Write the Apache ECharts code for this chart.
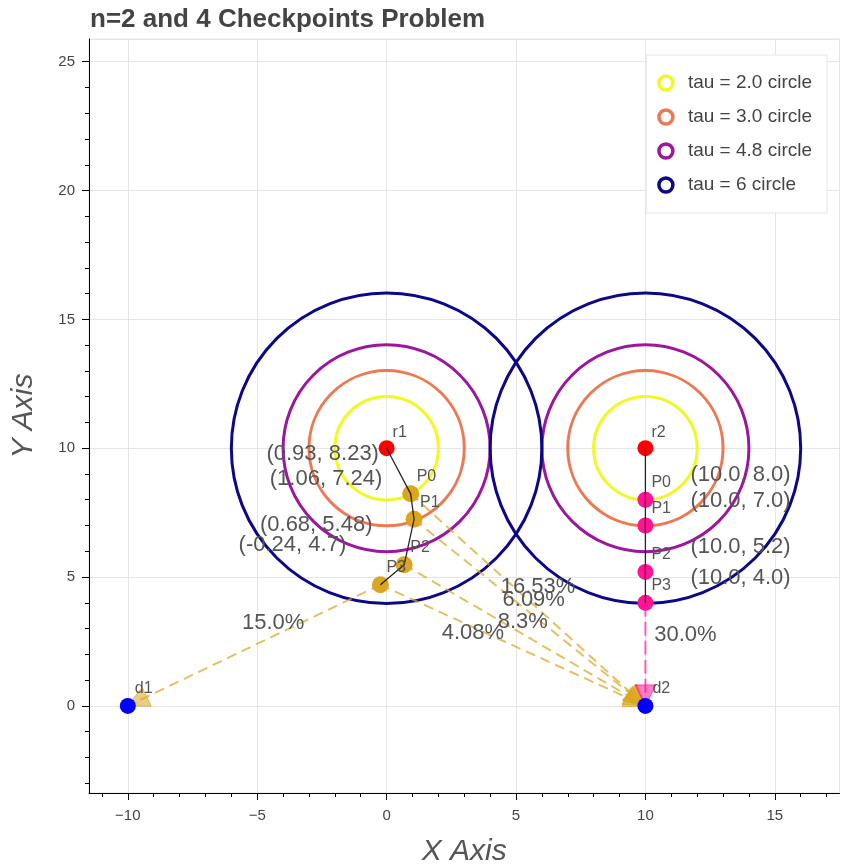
<!DOCTYPE html>
<html>
<head>
<meta charset="utf-8">
<script src="https://cdn.jsdelivr.net/npm/echarts@6/dist/echarts.min.js"></script>
<style>
  html, body { margin: 0; padding: 0; background: #fff; }
  #chart { width: 844px; height: 867px; }
</style>
</head>
<body>
<div id="chart"></div>
<script>
// --- data ---
const r1 = [0, 10];
const r2 = [10, 10];
const d1 = [-10, 0];
const d2 = [10, 0];

const tauNames = ['tau = 2.0 circle', 'tau = 3.0 circle', 'tau = 4.8 circle', 'tau = 6 circle'];
const tauRadii = [2, 3, 4, 6];
const tauColors = ['#F0F921', '#ED7953', '#9C179E', '#0D0887'];

const leftPX = [0.93, 1.06, 0.68, -0.24];
const leftPY = [8.23, 7.24, 5.48, 4.7];
const rightPX = [10.0, 10.0, 10.0, 10.0];
const rightPY = [8.0, 7.0, 5.2, 4.0];
const pNames = ['P0', 'P1', 'P2', 'P3'];

const leftToD2Pct = ['16.53%', '6.09%', '8.3%', '4.08%'];
const leftToD1Pct = ['15.0%'];
const rightToD2Pct = ['30.0%'];

const xMajor = [-10, -5, 0, 5, 10, 15];
const yMajor = [0, 5, 10, 15, 20, 25];
const xMinor = [-11, -9, -8, -7, -6, -4, -3, -2, -1, 1, 2, 3, 4, 6, 7, 8, 9, 11, 12, 13, 14, 16, 17];
const yMinor = [-3, -2, -1, 1, 2, 3, 4, 6, 7, 8, 9, 11, 12, 13, 14, 16, 17, 18, 19, 21, 22, 23, 24];

// --- helpers ---
const FONT = 'Liberation Sans, Arial, Helvetica, sans-serif';
const TXT = '#555';
const X_RANGE = [-11.5, 17.5];
const Y_RANGE = [-3.38, 25.88];
const leftP = leftPX.map((x, i) => [x, leftPY[i]]);
const rightP = rightPX.map((x, i) => [x, rightPY[i]]);
const pyStr = v => Number.isInteger(v) ? v.toFixed(1) : String(v);
const coordText = p => '(' + pyStr(p[0]) + ', ' + pyStr(p[1]) + ')';
const mid = (a, b) => [(a[0] + b[0]) / 2, (a[1] + b[1]) / 2];
const tickFmt = v => v < 0 ? '\u2212' + Math.abs(v) : String(v);

function circleSeries(i) {
  return {
    name: tauNames[i],
    type: 'custom',
    z: 2,
    itemStyle: { color: tauColors[i] },
    data: [[r1[0], r1[1], tauRadii[i]], [r2[0], r2[1], tauRadii[i]]],
    renderItem(params, api) {
      const c = api.coord([api.value(0), api.value(1)]);
      const r = api.size([api.value(2), 0])[0];
      return {
        type: 'circle',
        shape: { cx: c[0], cy: c[1], r: r },
        style: { fill: 'none', stroke: tauColors[i], lineWidth: 3 }
      };
    }
  };
}

function arrowSeries(starts, end, stroke, fill, dash) {
  return {
    type: 'custom',
    z: 3,
    data: starts.map(p => [p[0], p[1], end[0], end[1]]),
    renderItem(params, api) {
      const p = api.coord([api.value(0), api.value(1)]);
      const q = api.coord([api.value(2), api.value(3)]);
      const dx = q[0] - p[0], dy = q[1] - p[1];
      const len = Math.hypot(dx, dy);
      const ux = dx / len, uy = dy / len;
      const s = 21;
      const bx = q[0] - ux * s, by = q[1] - uy * s;
      const px = -uy * s / 2, py = ux * s / 2;
      return {
        type: 'group',
        children: [
          { type: 'line', shape: { x1: p[0], y1: p[1], x2: q[0], y2: q[1] },
            style: { stroke: stroke, lineWidth: 2, lineDash: dash } },
          { type: 'polygon', shape: { points: [[q[0], q[1]], [bx + px, by + py], [bx - px, by - py]] },
            style: { fill: fill, stroke: stroke, lineWidth: 1 } }
        ]
      };
    }
  };
}

function dotSeries(points, color, size) {
  return {
    type: 'scatter',
    z: 4,
    symbol: 'circle',
    symbolSize: size,
    itemStyle: { color: color, opacity: 1 },
    data: points
  };
}

function pathSeries(points) {
  return {
    type: 'line',
    z: 5,
    symbol: 'none',
    lineStyle: { color: '#000', width: 1.3, opacity: 0.85 },
    data: points
  };
}

// texts: array of strings, offsets: [dx, dy] or one pair per text
function textSeries(points, texts, offsets, align, size) {
  return {
    type: 'custom',
    z: 6,
    data: points,
    renderItem(params, api) {
      const c = api.coord([api.value(0), api.value(1)]);
      const o = Array.isArray(offsets[0]) ? offsets[params.dataIndex] : offsets;
      return {
        type: 'text',
        x: c[0] + o[0],
        y: c[1] + o[1],
        style: {
          text: texts[params.dataIndex],
          fill: TXT,
          font: size + 'px ' + FONT,
          align: align,
          verticalAlign: 'middle'
        }
      };
    }
  };
}

const gold = 'rgba(218,165,32,0.7)';
const goldFill = 'rgba(218,165,32,0.55)';
const pink = 'rgba(255,20,147,0.65)';
const pinkFill = 'rgba(255,20,147,0.55)';

const leftMids = leftP.map(p => mid(p, d2));
const d1Mid = [mid(leftP[3], d1)];
const rightMid = [mid(rightP[3], d2)];

const series = [
  ...tauNames.map((n, i) => circleSeries(i)),
  dotSeries([d1, d2], '#0000FF', 16),
  arrowSeries(leftP, d2, gold, goldFill, [10, 6]),
  arrowSeries([leftP[3]], d1, gold, goldFill, [10, 6]),
  arrowSeries([rightP[3]], d2, pink, pinkFill, [14, 5]),
  dotSeries(leftP, '#DAA520', 17),
  dotSeries(rightP, '#FF1493', 16),
  dotSeries([r1, r2], '#FF0000', 16),
  pathSeries([r1, ...leftP]),
  pathSeries([r2, ...rightP]),
  textSeries([r1, r2], ['r1', 'r2'], [6, -16], 'left', 16),
  textSeries([d1, d2], ['d1', 'd2'], [7, -17], 'left', 16),
  textSeries(leftP, pNames, [6, -17], 'left', 16),
  textSeries(rightP, pNames, [6, -17], 'left', 16),
  textSeries(leftP, leftP.map(coordText), [-88, -40], 'center', 22),
  textSeries(rightP, rightP.map(coordText), [45, -25], 'left', 22),
  textSeries(leftMids, leftToD2Pct, [[10, -13], [4, -13], [-2, -13], [-40, -12]], 'center', 22),
  textSeries(d1Mid, leftToD1Pct, [19, -22], 'center', 22),
  textSeries(rightMid, rightToD2Pct, [40, -19], 'center', 22)
];

// extra axes that only draw tick marks
function tickAxis(range, pos, values, len) {
  return {
    type: 'value', min: range[0], max: range[1], position: pos,
    axisLine: { show: false, onZero: false },
    axisTick: { show: true, length: len, customValues: values, lineStyle: { color: '#000', width: 1 } },
    axisLabel: { show: false },
    splitLine: { show: false }
  };
}

const nameStyle = { fontSize: 30, fontStyle: 'italic', color: '#555', fontFamily: FONT };

const chart = echarts.init(document.getElementById('chart'), null, { renderer: 'canvas' });
chart.setOption({
  animation: false,
  backgroundColor: '#fff',
  title: {
    text: 'n=2 and 4 Checkpoints Problem',
    left: 90,
    top: 7,
    padding: 0,
    textStyle: { color: '#444', fontSize: 26, fontWeight: 'bold', fontFamily: FONT }
  },
  legend: {
    orient: 'vertical',
    right: 17,
    top: 55,
    padding: [17, 15, 17, 11],
    itemWidth: 34,
    itemHeight: 14,
    itemGap: 12,
    backgroundColor: '#fff',
    borderColor: '#e5e5e5',
    borderWidth: 1,
    textStyle: { color: '#444', fontSize: 19, lineHeight: 22, fontFamily: FONT },
    data: tauNames.map((n, i) => ({
      name: n,
      icon: 'circle',
      itemStyle: { color: '#fff', borderColor: tauColors[i], borderWidth: 3.5 }
    }))
  },
  grid: {
    left: 89, right: 4.5, top: 39, bottom: 74,
    outerBoundsMode: 'none',
    containLabel: false,
    show: true, borderColor: '#e5e5e5', borderWidth: 1
  },
  xAxis: [
    {
      type: 'value', min: X_RANGE[0], max: X_RANGE[1],
      name: 'X Axis', nameLocation: 'middle', nameGap: 44, nameTextStyle: nameStyle,
      axisLine: { show: true, onZero: false, lineStyle: { color: '#000', width: 1 } },
      axisTick: { show: false },
      axisLabel: { color: '#444', fontSize: 15, fontFamily: FONT, margin: 15, formatter: tickFmt, customValues: xMajor },
      splitLine: { show: true, lineStyle: { color: '#e5e5e5', width: 1 } }
    },
    tickAxis(X_RANGE, 'bottom', xMajor, 7),
    tickAxis(X_RANGE, 'bottom', xMinor, 4)
  ],
  yAxis: [
    {
      type: 'value', min: Y_RANGE[0], max: Y_RANGE[1],
      name: 'Y Axis', nameLocation: 'middle', nameGap: 50, nameTextStyle: nameStyle,
      axisLine: { show: true, onZero: false, lineStyle: { color: '#000', width: 1 } },
      axisTick: { show: false },
      axisLabel: { color: '#444', fontSize: 15, fontFamily: FONT, margin: 14, formatter: tickFmt, customValues: yMajor },
      splitLine: { show: true, lineStyle: { color: '#e5e5e5', width: 1 } }
    },
    tickAxis(Y_RANGE, 'left', yMajor, 7),
    tickAxis(Y_RANGE, 'left', yMinor, 4)
  ],
  series: series
});
</script>
</body>
</html>
